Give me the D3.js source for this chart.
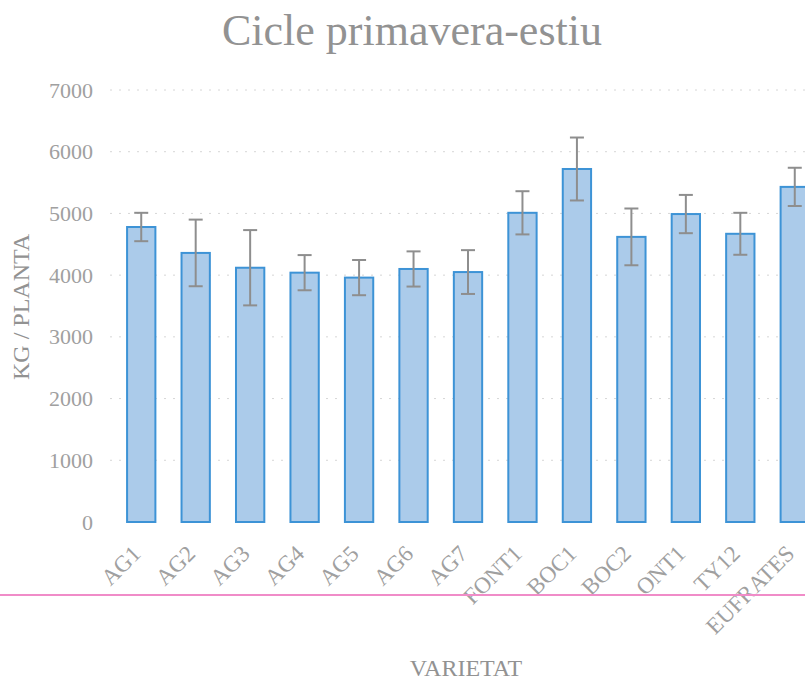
<!DOCTYPE html>
<html>
<head>
<meta charset="utf-8">
<script src="https://cdn.jsdelivr.net/npm/d3@7"></script>
<style>
  html, body { margin: 0; padding: 0; background: #fff; overflow: hidden; }
  svg { display: block; }
</style>
</head>
<body>
<script>
// Data
const varietats = ['AG1', 'AG2', 'AG3', 'AG4', 'AG5', 'AG6', 'AG7', 'FONT1', 'BOC1', 'BOC2', 'ONT1', 'TY12', 'EUFRATES'];
const kgPlanta = [4780, 4360, 4120, 4040, 3960, 4100, 4050, 5010, 5720, 4620, 4990, 4670, 5430];
const errors = [230, 540, 610, 285, 285, 285, 355, 350, 510, 460, 310, 340, 310];
const yTicks = [0, 1000, 2000, 3000, 4000, 5000, 6000, 7000];

const width = 805;
const height = 683;
const serif = '"Liberation Serif", "DejaVu Serif", serif';

const svg = d3.select('body').append('svg')
  .attr('width', width)
  .attr('height', height)
  .attr('viewBox', `0 0 ${width} ${height}`);

// Chart is cropped on the right in the reference, so the band range runs past the edge
const x = d3.scaleBand()
  .domain(varietats)
  .range([114, 822])
  .paddingInner(0.48)
  .paddingOuter(0.24);

const y = d3.scaleLinear()
  .domain([0, 7000])
  .range([522, 90]);

// faint dotted gridlines
svg.append('g')
  .selectAll('line')
  .data(yTicks.filter(d => d > 0))
  .enter()
  .append('line')
  .attr('x1', 110)
  .attr('x2', width)
  .attr('y1', d => y(d))
  .attr('y2', d => y(d))
  .attr('stroke', '#d6d6d6')
  .attr('stroke-width', 1)
  .attr('stroke-dasharray', '2,7');

// y axis (labels only)
const yAxis = svg.append('g')
  .attr('transform', 'translate(93,0)')
  .call(d3.axisLeft(y).tickValues(yTicks).tickFormat(d3.format('d')).tickSize(0).tickPadding(0));
yAxis.select('.domain').remove();
yAxis.selectAll('text')
  .attr('font-family', serif)
  .attr('font-size', '22px')
  .attr('fill', '#a0a0a0');

// bars
svg.append('g')
  .selectAll('rect')
  .data(varietats)
  .enter()
  .append('rect')
  .attr('x', d => x(d))
  .attr('y', (d, i) => y(kgPlanta[i]))
  .attr('width', x.bandwidth())
  .attr('height', (d, i) => y(0) - y(kgPlanta[i]))
  .attr('fill', '#abcbea')
  .attr('stroke', '#3d93d6')
  .attr('stroke-width', 2);

// error bars
const err = svg.append('g')
  .attr('stroke', '#8e8e8e')
  .attr('stroke-width', 2);
varietats.forEach((d, i) => {
  const cx = x(d) + x.bandwidth() / 2;
  const top = y(kgPlanta[i] + errors[i]);
  const bot = y(kgPlanta[i] - errors[i]);
  err.append('line').attr('x1', cx).attr('x2', cx).attr('y1', top).attr('y2', bot);
  err.append('line').attr('x1', cx - 7).attr('x2', cx + 7).attr('y1', top).attr('y2', top);
  err.append('line').attr('x1', cx - 7).attr('x2', cx + 7).attr('y1', bot).attr('y2', bot);
});

// x axis labels, rotated
const xAxis = svg.append('g')
  .attr('transform', 'translate(0,522)')
  .call(d3.axisBottom(x).tickSize(0).tickPadding(0));
xAxis.select('.domain').remove();
xAxis.selectAll('text')
  .attr('font-family', serif)
  .attr('font-size', '23px')
  .attr('fill', '#a0a0a0')
  .attr('text-anchor', 'end')
  .attr('dy', null)
  .attr('y', 0)
  .attr('transform', 'translate(1,33) rotate(-45)');

// title
svg.append('text')
  .attr('x', 412)
  .attr('y', 45)
  .attr('text-anchor', 'middle')
  .attr('font-family', serif)
  .attr('font-size', '44px')
  .attr('fill', '#929292')
  .text('Cicle primavera-estiu');

// axis titles
svg.append('text')
  .attr('transform', 'translate(29,307) rotate(-90)')
  .attr('text-anchor', 'middle')
  .attr('font-family', serif)
  .attr('font-size', '24px')
  .attr('fill', '#929292')
  .text('KG / PLANTA');

svg.append('text')
  .attr('x', 466)
  .attr('y', 676)
  .attr('text-anchor', 'middle')
  .attr('font-family', serif)
  .attr('font-size', '24px')
  .attr('fill', '#929292')
  .text('VARIETAT');

// pink scan line across the page
svg.append('line')
  .attr('x1', 0)
  .attr('x2', width)
  .attr('y1', 595)
  .attr('y2', 595)
  .attr('stroke', '#f08cc8')
  .attr('stroke-width', 2);
</script>
</body>
</html>
